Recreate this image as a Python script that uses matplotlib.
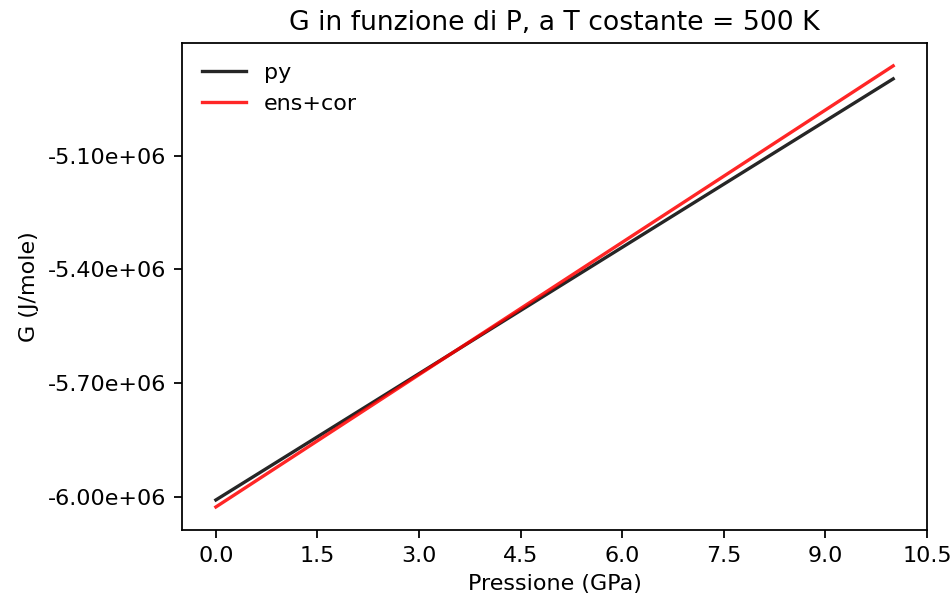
import matplotlib
matplotlib.use("Agg")
import matplotlib.pyplot as plt

# pressione (GPa) e G (J/mole)
pressione = [0.0, 10.0]
G_py = [-6.0087e6, -4.8967e6]
G_enscor = [-6.0272e6, -4.8624e6]

fig = plt.figure(figsize=(951/160, 603/160), dpi=160)
ax = fig.add_axes([0.1914, 0.1211, 0.7834, 0.8076])

ax.plot(pressione, G_py, color='k', alpha=0.85, label='py')
ax.plot(pressione, G_enscor, color='r', alpha=0.85, label='ens+cor')

ax.set_xticks([0.0, 1.5, 3.0, 4.5, 6.0, 7.5, 9.0, 10.5])
ax.set_xticklabels(['0.0', '1.5', '3.0', '4.5', '6.0', '7.5', '9.0', '10.5'])
ax.set_yticks([-6.0e6, -5.7e6, -5.4e6, -5.1e6])
ax.set_yticklabels(['-6.00e+06', '-5.70e+06', '-5.40e+06', '-5.10e+06'])
ax.set_xlim(-0.5, 10.5)
ax.set_ylim(-6.088e6, -4.802e6)

ax.set_title('G in funzione di P, a T costante = 500 K')
ax.set_xlabel('Pressione (GPa)')
ax.set_ylabel('G (J/mole)')
ax.legend(frameon=False, loc='upper left')

fig.savefig('out.png', dpi=160)
